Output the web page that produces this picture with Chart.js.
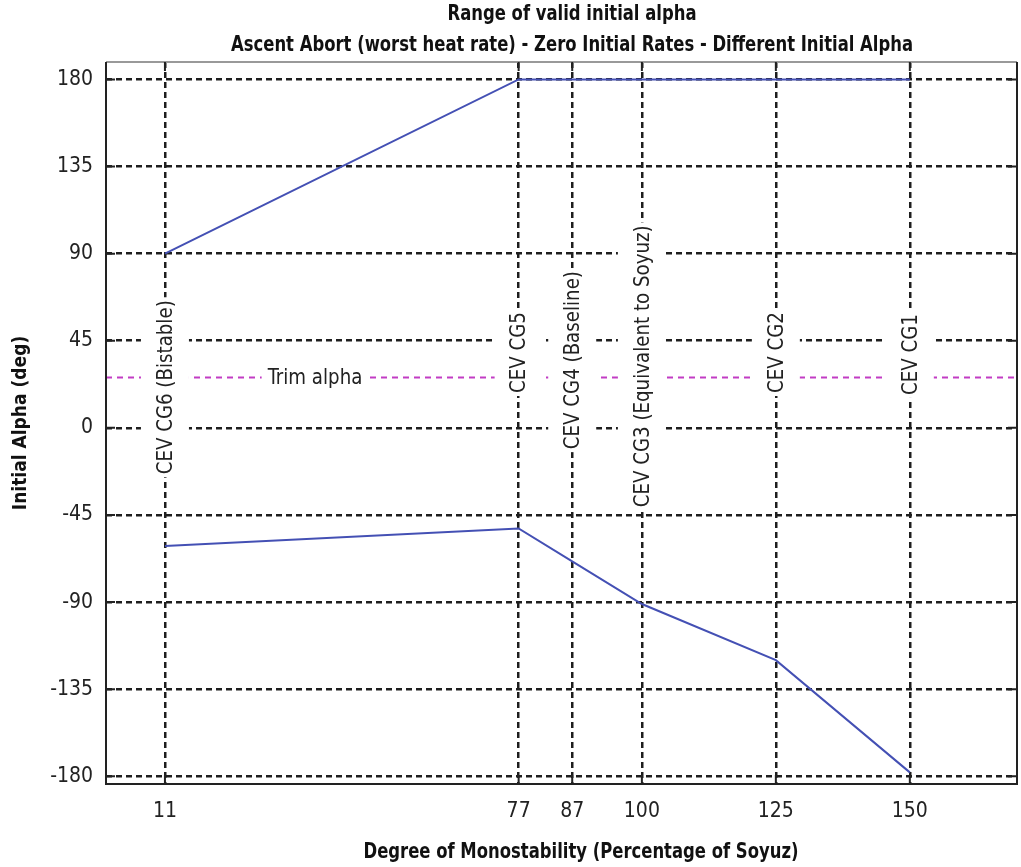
<!DOCTYPE html>
<html>
<head>
<meta charset="utf-8">
<script src="https://cdn.jsdelivr.net/npm/chart.js@4.4.0/dist/chart.umd.min.js"></script>
<style>
  body { margin: 0; background: #fff; }
  #wrap { width: 1021px; height: 867px; }
</style>
</head>
<body>
<div id="wrap"><canvas id="chart"></canvas></div>
<script>
const FONT = "'Liberation Sans Narrow', 'Arial Narrow', 'DejaVu Sans Condensed', sans-serif";

// ================= DATA =================
const xTicks = [11, 77, 87, 100, 125, 150];
const yTicks = [-180, -135, -90, -45, 0, 45, 90, 135, 180];

const upperX = [11, 77, 150];
const upperAlpha = [90, 180, 180];

const lowerX = [11, 77, 87, 100, 125, 150];
const lowerAlpha = [-61, -52, -69, -91, -120, -178];

const trimAlpha = 26;
const trimLabel = "Trim alpha";
const trimLabelX = 39;

const cgNames = ["CEV CG6 (Bistable)", "CEV CG5", "CEV CG4 (Baseline)",
                 "CEV CG3 (Equivalent to Soyuz)", "CEV CG2", "CEV CG1"];
const cgX = [11, 77, 87, 100, 125, 150];
const cgLabelStart = [-24, 18, -11, -41, 18, 17];

const titleLines = ["Range of valid initial alpha",
  "Ascent Abort (worst heat rate) - Zero Initial Rates - Different Initial Alpha"];
const xTitle = "Degree of Monostability (Percentage of Soyuz)";
const yTitle = "Initial Alpha (deg)";

const xMin = 0, xMax = 170;
const yMin = -184, yMax = 189;

const pts = (xs, ys) => xs.map((x, i) => ({ x: x, y: ys[i] }));

// squeezed text, to look like a narrow face
function narrowText(ctx, text, x, y, font, sx, rot) {
  ctx.save();
  ctx.translate(x, y);
  if (rot) ctx.rotate(rot);
  ctx.scale(sx, 1);
  ctx.font = font;
  ctx.fillText(text, 0, 0);
  ctx.restore();
}

// ================= ANNOTATIONS =================
const LABEL_FONT = "22px " + FONT;
const LABEL_SX = 0.92;

const annotate = {
  id: "annotate",
  afterDatasetsDraw(c) {
    const ctx = c.ctx, xs = c.scales.x, ys = c.scales.y;
    ctx.save();
    ctx.font = LABEL_FONT;
    ctx.textBaseline = "middle";

    // trim alpha label
    let tx = xs.getPixelForValue(trimLabelX);
    let ty = ys.getPixelForValue(trimAlpha);
    let w = ctx.measureText(trimLabel).width * LABEL_SX;
    ctx.fillStyle = "#fff";
    ctx.fillRect(tx - w / 2 - 6, ty - 10, w + 12, 20);
    ctx.fillStyle = "#222";
    ctx.textAlign = "center";
    narrowText(ctx, trimLabel, tx, ty + 1, LABEL_FONT, LABEL_SX);

    // CG labels
    ctx.textAlign = "left";
    cgNames.forEach((name, i) => {
      const px = xs.getPixelForValue(cgX[i]);
      const py = ys.getPixelForValue(cgLabelStart[i]);
      const tw = ctx.measureText(name).width * LABEL_SX;
      ctx.fillStyle = "#fff";
      ctx.fillRect(px - 24, py - tw - 3, 48, tw + 6);
      ctx.fillStyle = "#222";
      narrowText(ctx, name, px + 1, py, LABEL_FONT, LABEL_SX, -Math.PI / 2);
    });
    ctx.restore();
  },
  afterDraw(c) {
    const ctx = c.ctx, a = c.chartArea, xs = c.scales.x, ys = c.scales.y;
    ctx.save();
    // frame
    ctx.lineWidth = 2;
    ctx.strokeStyle = "#999";
    ctx.beginPath(); ctx.moveTo(a.left, a.top); ctx.lineTo(a.right, a.top); ctx.stroke();
    ctx.strokeStyle = "#222";
    ctx.beginPath();
    ctx.moveTo(a.left, a.top); ctx.lineTo(a.left, a.bottom);
    ctx.lineTo(a.right, a.bottom); ctx.lineTo(a.right, a.top);
    ctx.stroke();

    // inward tick marks
    ctx.beginPath();
    xTicks.forEach(v => {
      const p = xs.getPixelForValue(v);
      ctx.moveTo(p, a.bottom); ctx.lineTo(p, a.bottom - 9);
      ctx.moveTo(p, a.top); ctx.lineTo(p, a.top + 9);
    });
    yTicks.forEach(v => {
      const p = ys.getPixelForValue(v);
      ctx.moveTo(a.left, p); ctx.lineTo(a.left + 9, p);
      ctx.moveTo(a.right, p); ctx.lineTo(a.right - 9, p);
    });
    ctx.stroke();

    // titles
    ctx.fillStyle = "#111";
    ctx.textAlign = "center";
    ctx.textBaseline = "middle";
    const tf = "bold 21px " + FONT;
    narrowText(ctx, titleLines[0], 572, 15, tf, 0.87);
    narrowText(ctx, titleLines[1], 572, 46, tf, 0.87);
    narrowText(ctx, xTitle, 581, 853, tf, 0.87);
    ctx.restore();
  }
};

// ================= CHART =================
new Chart(document.getElementById("chart"), {
  type: "scatter",
  data: {
    datasets: [
      {
        data: pts([xMin, xMax], [trimAlpha, trimAlpha]),
        showLine: true,
        borderColor: "#c23cc4",
        borderWidth: 2,
        borderDash: [6, 5],
        pointRadius: 0
      },
      {
        data: pts(upperX, upperAlpha),
        showLine: true,
        borderColor: "#4450b4",
        borderWidth: 2,
        pointRadius: 0
      },
      {
        data: pts(lowerX, lowerAlpha),
        showLine: true,
        borderColor: "#4450b4",
        borderWidth: 2,
        pointRadius: 0
      }
    ]
  },
  options: {
    responsive: true,
    maintainAspectRatio: false,
    animation: false,
    layout: { padding: { left: 0, top: 62, right: 4, bottom: 0 } },
    plugins: {
      legend: { display: false },
      tooltip: { enabled: false },
      title: { display: false }
    },
    scales: {
      x: {
        type: "linear",
        min: xMin,
        max: xMax,
        afterBuildTicks: s => { s.ticks = xTicks.map(v => ({ value: v })); },
        afterFit: s => { s.height = 83; },
        grid: { color: "#1e1e1e", lineWidth: 2.5, drawTicks: false },
        border: { display: false, dash: [6, 4] },
        ticks: {
          autoSkip: false,
          maxRotation: 0,
          padding: 15,
          color: "#222",
          font: { family: FONT, size: 21 }
        }
      },
      y: {
        type: "linear",
        min: yMin,
        max: yMax,
        afterBuildTicks: s => { s.ticks = yTicks.map(v => ({ value: v })); },
        afterFit: s => { s.width = 106; },
        grid: { color: "#1e1e1e", lineWidth: 2.5, drawTicks: false },
        border: { display: false, dash: [6, 4] },
        ticks: {
          padding: 13,
          color: "#222",
          font: { family: FONT, size: 21 }
        },
        title: {
          display: true,
          text: yTitle,
          color: "#111",
          padding: { top: 10, bottom: 0 },
          font: { family: FONT, size: 19, weight: "bold" }
        }
      }
    }
  },
  plugins: [annotate]
});
</script>
</body>
</html>
